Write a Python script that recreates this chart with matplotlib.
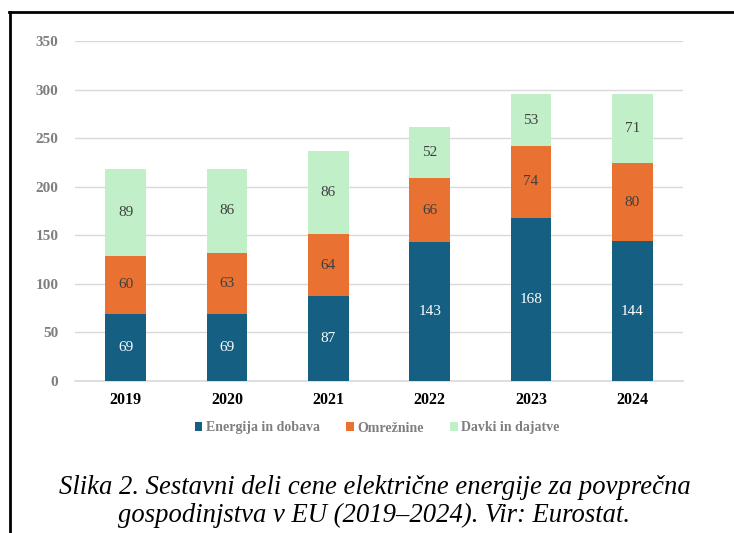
import matplotlib
matplotlib.use("Agg")
import matplotlib.pyplot as plt
from matplotlib.lines import Line2D
from matplotlib.patches import Patch
import numpy as np

years = ["2019", "2020", "2021", "2022", "2023", "2024"]
energija = [69, 69, 87, 143, 168, 144]
omreznine = [60, 63, 64, 66, 74, 80]
davki = [89, 86, 86, 52, 53, 71]
series_names = ["Energija in dobava", "Omrežnine", "Davki in dajatve"]
colors = ["#156082", "#E97132", "#C1F0C8"]
label_colors = ["white", "#404040", "#404040"]
yticks = [0, 50, 100, 150, 200, 250, 300, 350]

W, H = 734, 533
fig = plt.figure(figsize=(W / 100, H / 100), dpi=100)
ax = fig.add_axes([75 / W, 1 - 381 / H, (683 - 75) / W, (381 - 41) / H])

serif = ["Liberation Serif", "DejaVu Serif"]
x = np.arange(len(years))
bottom = np.zeros(len(years))
for vals, col, lc, name in zip([energija, omreznine, davki], colors, label_colors, series_names):
    vals = np.array(vals, dtype=float)
    ax.bar(x, vals, width=0.4, bottom=bottom, color=col, zorder=3, label=name)
    for xi, b, v in zip(x, bottom, vals):
        ax.text(xi, b + v / 2, f"{int(v)}", ha="center", va="center", color=lc,
                fontsize=11, family=serif, zorder=4)
    bottom += vals

ax.set_xlim(-0.5, len(years) - 0.5)
ax.set_ylim(0, 350)
ax.set_yticks(yticks)
ax.set_yticklabels([str(t) for t in yticks], family=serif, fontweight="bold",
                   fontsize=11, color="#7f7f7f")
ax.set_xticks(x)
ax.set_xticklabels(years, family=serif, fontweight="bold", fontsize=11.5, color="black")
ax.tick_params(axis="both", length=0)
ax.tick_params(axis="y", pad=12)
ax.tick_params(axis="x", pad=8)
ax.grid(axis="y", color="#d9d9d9", linewidth=1, zorder=0)
for s in ["top", "right", "left"]:
    ax.spines[s].set_visible(False)
ax.spines["bottom"].set_color("#d9d9d9")
ax.spines["bottom"].set_linewidth(1.2)

handles = [Patch(facecolor=c, edgecolor="none") for c in colors]
leg = fig.legend(handles, series_names, loc="center", bbox_to_anchor=(377 / W, 1 - 428 / H),
                 ncol=3, frameon=False, handlelength=0.55, handleheight=0.55,
                 handletextpad=0.25, columnspacing=1.9,
                 prop={"family": serif, "weight": "bold", "size": 10})
for t in leg.get_texts():
    t.set_color("#7f7f7f")

fig.text(375 / W, 1 - 487 / H, "Slika 2. Sestavni deli cene električne energije za povprečna",
         ha="center", va="center", fontsize=19.2, style="italic", family=serif)
fig.text(374 / W, 1 - 515 / H, "gospodinjstva v EU (2019–2024). Vir: Eurostat.",
         ha="center", va="center", fontsize=19.2, style="italic", family=serif)

fig.add_artist(Line2D([10 / W, 10 / W], [0, 1 - 12 / H], transform=fig.transFigure,
                      color="black", linewidth=2))
fig.add_artist(Line2D([9 / W, 1], [1 - 12 / H, 1 - 12 / H], transform=fig.transFigure,
                      color="black", linewidth=2))

fig.savefig("out.png", dpi=100)
